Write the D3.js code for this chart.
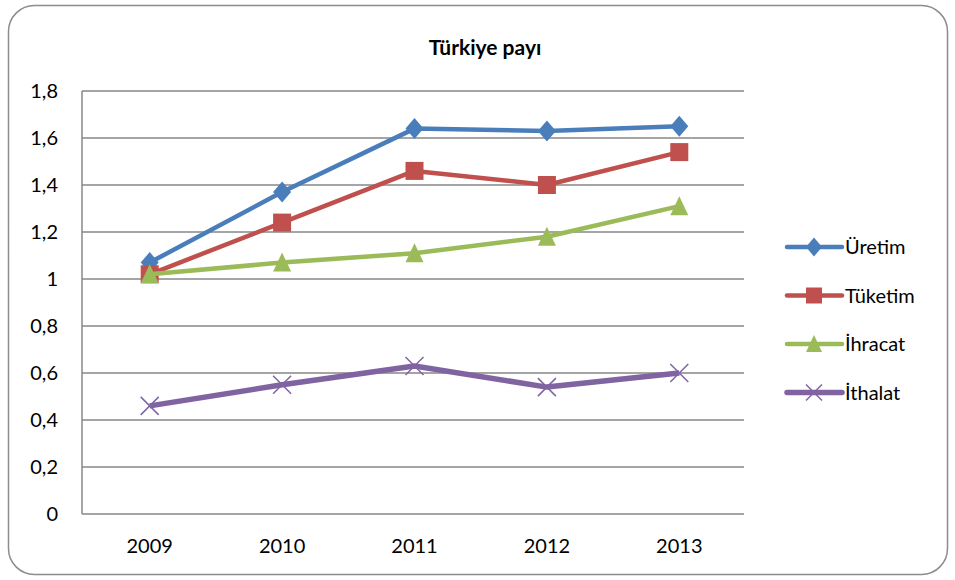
<!DOCTYPE html>
<html><head><meta charset="utf-8">
<script src="https://cdn.jsdelivr.net/npm/d3@7"></script>
<style>body{margin:0;background:#fff}svg{display:block}</style>
</head><body>
<svg id="c" width="955" height="580"></svg>
<script>
const years = ["2009","2010","2011","2012","2013"];
const uretim = [1.07,1.37,1.64,1.63,1.65];
const tuketim = [1.02,1.24,1.46,1.40,1.54];
const ihracat = [1.02,1.07,1.11,1.18,1.31];
const ithalat = [0.46,0.55,0.63,0.54,0.60];
const seriesNames = ["Üretim","Tüketim","İhracat","İthalat"];
const yTicks = [0,0.2,0.4,0.6,0.8,1,1.2,1.4,1.6,1.8];
const title = "Türkiye payı";

const series = [
  {name:seriesNames[0], values:uretim, color:"#4a7ebb", marker:"diamond", w:4.5},
  {name:seriesNames[1], values:tuketim, color:"#c0504d", marker:"square", w:4.5},
  {name:seriesNames[2], values:ihracat, color:"#9bbb59", marker:"triangle", w:4.5},
  {name:seriesNames[3], values:ithalat, color:"#8064a2", marker:"x", w:5.5}
];
const font = "Lato, 'Open Sans', sans-serif";
const svg = d3.select("#c");
svg.append("rect").attr("x",8.5).attr("y",5.5).attr("width",939).attr("height",569)
  .attr("rx",26).attr("fill","#fff").attr("stroke","#8c8c8c").attr("stroke-width",1.5);
svg.append("text").attr("x",485).attr("y",55).attr("text-anchor","middle")
  .attr("font-family",font).attr("font-weight","bold").attr("font-size",21).attr("fill","#000").text(title);

const L=82,R=744,T=91,B=514;
const x = d3.scaleBand().domain(years).range([L+1.5,R+1.5]);
const y = d3.scaleLinear().domain([0,1.8]).range([B,T]);
const fmt = d => String(d).replace(".",",");

const g = svg.append("g");
g.selectAll("line.grid").data(yTicks).join("line").attr("class","grid")
  .attr("x1",L).attr("x2",R).attr("y1",d=>y(d)).attr("y2",d=>y(d))
  .attr("stroke","#878787").attr("stroke-width",1.5);
g.append("line").attr("x1",L).attr("x2",L).attr("y1",T).attr("y2",B).attr("stroke","#878787").attr("stroke-width",1.5);

const ya = svg.append("g").attr("transform",`translate(${L},0)`)
  .call(d3.axisLeft(y).tickValues(yTicks).tickFormat(fmt).tickSize(0).tickPadding(24));
ya.select(".domain").remove();
ya.selectAll("text").attr("font-family",font).attr("font-size",20).attr("fill","#000");
const xa = svg.append("g").attr("transform",`translate(0,${B})`)
  .call(d3.axisBottom(x).tickSize(0).tickPadding(25));
xa.select(".domain").remove();
xa.selectAll("text").attr("font-family",font).attr("font-size",20).attr("fill","#000");

const cx = d => x(d)+x.bandwidth()/2;
const line = d3.line().x((d,i)=>cx(years[i])).y(d=>y(d));

function marker(sel, type, color, size){
  if(type==="diamond"){
    const h=size/2+1.5, w=size/2;
    sel.append("path").attr("d",`M0,${-h}L${w},0L0,${h}L${-w},0Z`).attr("fill",color);
  } else if(type==="square"){
    sel.append("rect").attr("x",-size/2).attr("y",-size/2).attr("width",size).attr("height",size).attr("fill",color);
  } else if(type==="triangle"){
    const h=size/2;
    sel.append("path").attr("d",`M0,${-h-1}L${h},${h}L${-h},${h}Z`).attr("fill",color);
  } else {
    const s=size/2;
    sel.append("path").attr("d",`M${-s},${-s}L${s},${s}M${-s},${s}L${s},${-s}`).attr("stroke",color).attr("stroke-width",1.5).attr("fill","none");
  }
}
series.forEach(s=>{
  svg.append("path").datum(s.values).attr("d",line).attr("fill","none")
    .attr("stroke",s.color).attr("stroke-width",s.w).attr("stroke-linejoin","round");
  s.values.forEach((v,i)=>{
    const m = svg.append("g").attr("transform",`translate(${cx(years[i])},${y(v)})`);
    marker(m, s.marker, s.color, 18);
  });
});

const lg = svg.append("g");
series.forEach((s,i)=>{
  const yy = 247 + i*48.5;
  lg.append("line").attr("x1",787).attr("x2",842).attr("y1",yy).attr("y2",yy)
    .attr("stroke",s.color).attr("stroke-width",s.w).attr("stroke-linecap","round");
  const m = lg.append("g").attr("transform",`translate(814,${yy})`);
  marker(m, s.marker, s.color, 16);
  lg.append("text").attr("x",845).attr("y",yy).attr("dy","0.35em")
    .attr("font-family",font).attr("font-size",20).attr("fill","#000").text(s.name);
});
</script>
</body></html>
